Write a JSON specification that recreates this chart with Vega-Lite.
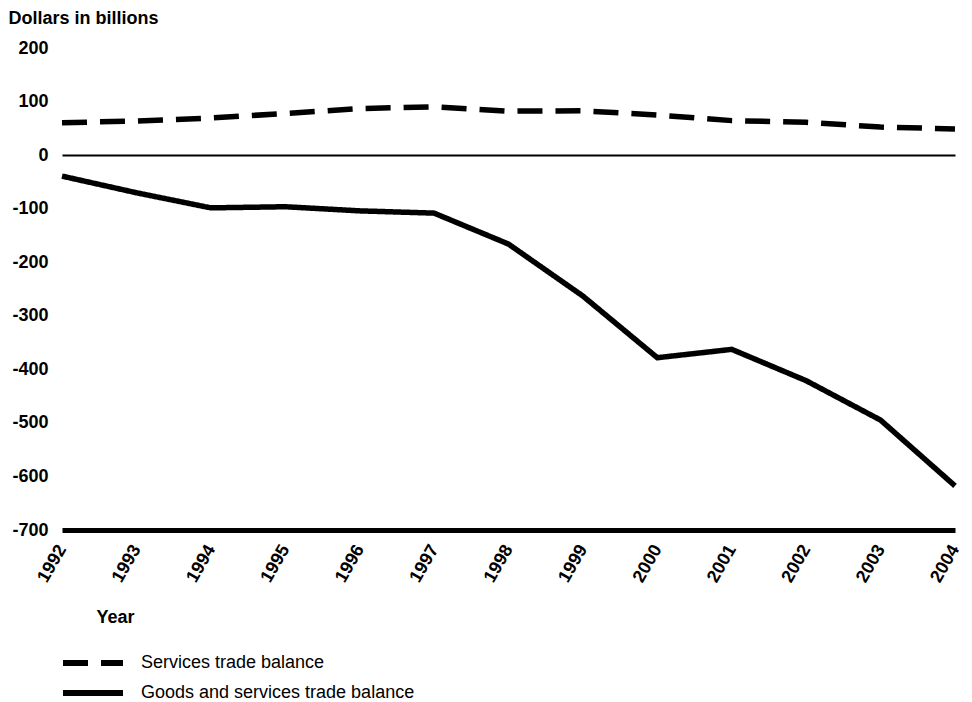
{
  "$schema": "https://vega.github.io/schema/vega-lite/v6.json",
  "width": 893,
  "height": 482,
  "autosize": {"type": "none"},
  "padding": {"left": 62, "top": 48, "right": 17, "bottom": 172},
  "config": {
    "view": {"stroke": null},
    "font": "Liberation Sans",
    "axis": {"labelColor": "black", "titleColor": "black"}
  },
  "data": {
    "values": [
      {"year": "1992", "series": "Services trade balance", "value": 60.4},
      {"year": "1993", "series": "Services trade balance", "value": 63.7},
      {"year": "1994", "series": "Services trade balance", "value": 69.2},
      {"year": "1995", "series": "Services trade balance", "value": 77.8},
      {"year": "1996", "series": "Services trade balance", "value": 87.0},
      {"year": "1997", "series": "Services trade balance", "value": 90.2},
      {"year": "1998", "series": "Services trade balance", "value": 82.1},
      {"year": "1999", "series": "Services trade balance", "value": 82.7},
      {"year": "2000", "series": "Services trade balance", "value": 74.9},
      {"year": "2001", "series": "Services trade balance", "value": 64.4},
      {"year": "2002", "series": "Services trade balance", "value": 61.2},
      {"year": "2003", "series": "Services trade balance", "value": 52.4},
      {"year": "2004", "series": "Services trade balance", "value": 48.8},
      {"year": "1992", "series": "Goods and services trade balance", "value": -39.2},
      {"year": "1993", "series": "Goods and services trade balance", "value": -70.3},
      {"year": "1994", "series": "Goods and services trade balance", "value": -98.5},
      {"year": "1995", "series": "Goods and services trade balance", "value": -96.4},
      {"year": "1996", "series": "Goods and services trade balance", "value": -104.1},
      {"year": "1997", "series": "Goods and services trade balance", "value": -108.3},
      {"year": "1998", "series": "Goods and services trade balance", "value": -166.1},
      {"year": "1999", "series": "Goods and services trade balance", "value": -263.2},
      {"year": "2000", "series": "Goods and services trade balance", "value": -378.3},
      {"year": "2001", "series": "Goods and services trade balance", "value": -362.7},
      {"year": "2002", "series": "Goods and services trade balance", "value": -421.2},
      {"year": "2003", "series": "Goods and services trade balance", "value": -494.8},
      {"year": "2004", "series": "Goods and services trade balance", "value": -617.6}
    ]
  },
  "mark": {"type": "line", "color": "black", "strokeWidth": 5.5, "strokeCap": "butt"},
  "encoding": {
    "x": {
      "field": "year",
      "type": "ordinal",
      "scale": {"type": "point", "padding": 0},
      "axis": {
        "title": "Year",
        "titleFontSize": 18,
        "titleFontWeight": "bold",
        "titleAlign": "left",
        "titleBaseline": "middle",
        "titleX": 34,
        "titleY": 87,
        "domainColor": "black",
        "domainWidth": 5,
        "ticks": false,
        "grid": false,
        "labelAngle": -60,
        "labelAlign": "right",
        "labelBaseline": "middle",
        "labelPadding": 16,
        "labelDx": 3,
        "labelFontSize": 18,
        "labelFontWeight": "bold"
      }
    },
    "y": {
      "field": "value",
      "type": "quantitative",
      "scale": {"domain": [-700, 200], "nice": false, "zero": false},
      "axis": {
        "title": "Dollars in billions",
        "titleAngle": 0,
        "titleAlign": "left",
        "titleBaseline": "middle",
        "titleX": -54,
        "titleY": -30,
        "titleFontSize": 18,
        "titleFontWeight": "bold",
        "values": [-700, -600, -500, -400, -300, -200, -100, 0, 100, 200],
        "labelExpr": "'' + datum.value",
        "domain": false,
        "ticks": false,
        "labelFontSize": 18,
        "labelFontWeight": "bold",
        "labelPadding": 14,
        "grid": true,
        "gridWidth": 2,
        "gridColor": {"condition": {"test": "datum.value === 0", "value": "black"}, "value": "transparent"}
      }
    },
    "strokeDash": {
      "field": "series",
      "type": "nominal",
      "scale": {
        "domain": ["Services trade balance", "Goods and services trade balance"],
        "range": [[25, 13], [1, 0]]
      },
      "legend": {
        "title": null,
        "orient": "none",
        "legendX": -3,
        "legendY": 606,
        "padding": 0,
        "symbolType": "M-1,0H11",
        "symbolSize": 100,
        "symbolStrokeWidth": 6,
        "symbolStrokeColor": "black",
        "labelFontSize": 18,
        "labelColor": "black",
        "labelLimit": 500,
        "labelOffset": 64,
        "rowPadding": 6
      }
    }
  }
}
